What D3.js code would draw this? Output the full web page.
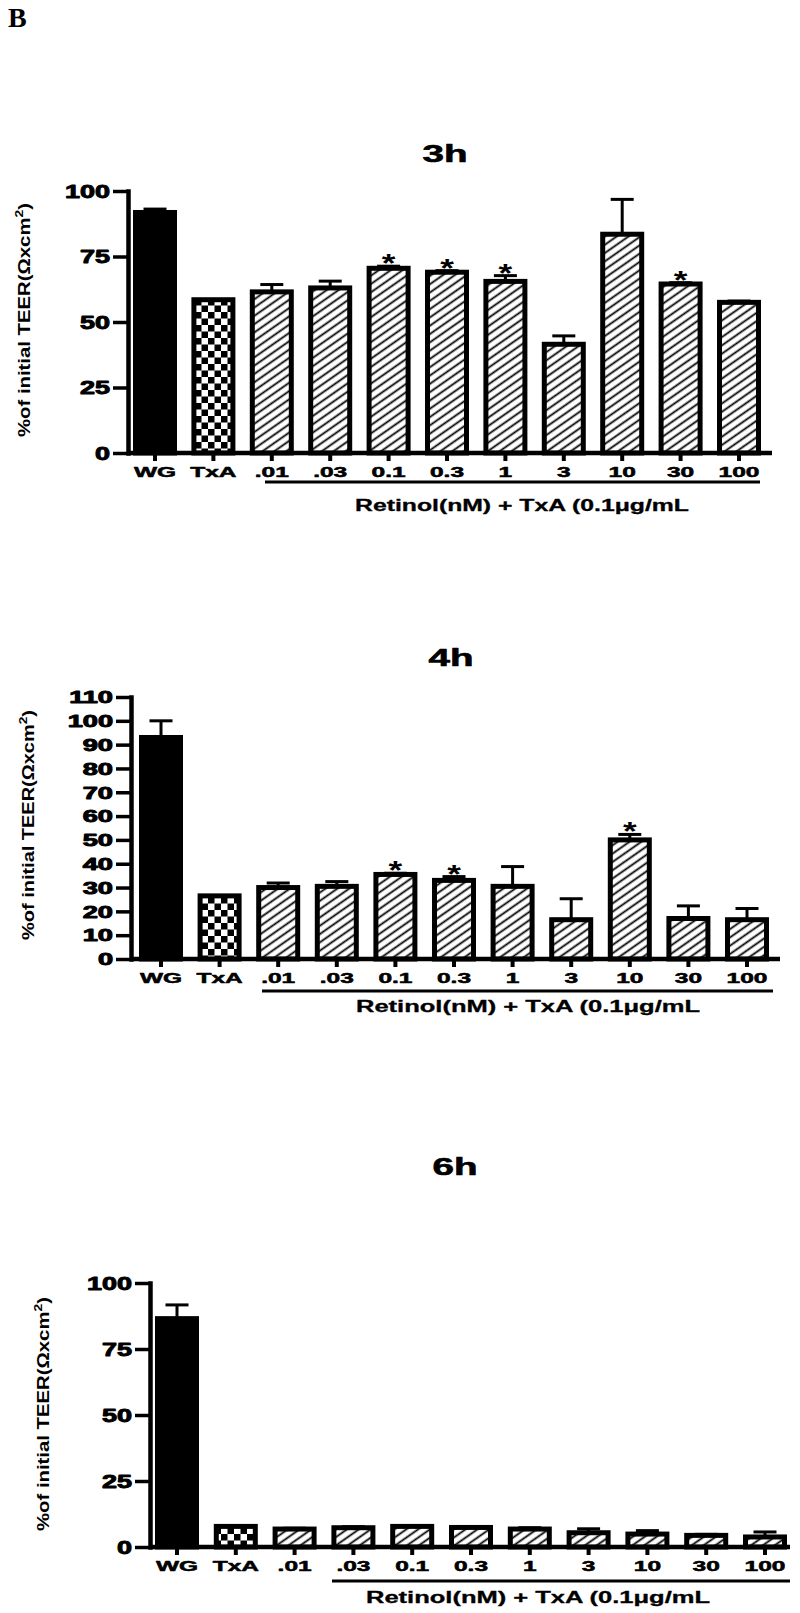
<!DOCTYPE html>
<html><head><meta charset="utf-8">
<script src="https://cdn.jsdelivr.net/npm/d3@7"></script>
<style>body{margin:0;background:#fff}</style>
</head><body>
<svg id="c" width="800" height="1613" xmlns="http://www.w3.org/2000/svg"></svg>
<script>
// ---------- DATA ----------
const categories = ["WG", "TxA", ".01", ".03", "0.1", "0.3", "1", "3", "10", "30", "100"];
const fillKinds = ["solid", "checker", "hatch", "hatch", "hatch", "hatch", "hatch", "hatch", "hatch", "hatch", "hatch"];

const values3h = [91.8, 58.5, 61.5, 63, 70.5, 69, 65.5, 41.5, 83.5, 64.5, 57.5];
const errors3h = [1.3, 0, 2.8, 2.6, 0.8, 0.6, 2.2, 3.2, 13.3, 0.5, 0.5];
const stars3h  = [0, 0, 0, 0, 1, 1, 1, 0, 0, 1, 0];
const yTicks3h = [0, 25, 50, 75, 100];

const values4h = [93, 26.5, 30, 30.5, 35.5, 33, 30.5, 16.5, 50, 17, 16.5];
const errors4h = [7, 0, 1.9, 2, 0.5, 1.6, 8.3, 8.8, 2.3, 5.3, 4.7];
const stars4h  = [0, 0, 0, 0, 1, 1, 0, 0, 1, 0, 0];
const yTicks4h = [0, 10, 20, 30, 40, 50, 60, 70, 80, 90, 100, 110];

const values6h = [86.5, 7.8, 6.8, 7.3, 7.8, 7.4, 6.8, 5.4, 4.9, 4.4, 3.8];
const errors6h = [5.2, 0, 0.3, 0.4, 0, 0, 0.5, 1.5, 1.3, 0.4, 1.9];
const stars6h  = [0, 0, 0, 0, 0, 0, 0, 0, 0, 0, 0];
const yTicks6h = [0, 25, 50, 75, 100];

const yLabelMain = "%of initial TEER(Ωxcm";
const groupLabel = "Retinol(nM) + TxA (0.1μg/mL";

// ---------- LAYOUT ----------
const FONT = "'Liberation Sans', Arial, Helvetica, sans-serif";
const layouts = [
  {title:"3h", ymax:100, ticks:yTicks3h, values:values3h, errors:errors3h, stars:stars3h,
   y0:453, yTop:191, axisX:128, firstCenter:155, step:58.4, axisEnd:772,
   tickFont:18, tickStretch:1.5, titleX:445, titleY:162,
   labY:477, ulY:482, ulX1:265, ulX2:760, retX:355, retY:511, retLen:334,
   ylabX:30, ylabY:320, ylabLen:234},
  {title:"4h", ymax:110, ticks:yTicks4h, values:values4h, errors:errors4h, stars:stars4h,
   y0:959, yTop:697, axisX:131, firstCenter:161, step:58.6, axisEnd:780,
   tickFont:16, tickStretch:1.7, titleX:451, titleY:666,
   labY:983, ulY:991, ulX1:262, ulX2:773, retX:356, retY:1012, retLen:344,
   ylabX:34, ylabY:825, ylabLen:230},
  {title:"6h", ymax:100, ticks:yTicks6h, values:values6h, errors:errors6h, stars:stars6h,
   y0:1547, yTop:1283, axisX:150, firstCenter:177, step:58.8, axisEnd:790,
   tickFont:18, tickStretch:1.5, titleX:455, titleY:1175,
   labY:1571, ulY:1581, ulX1:332, ulX2:790, retX:366, retY:1603, retLen:344,
   ylabX:49, ylabY:1414, ylabLen:234}
];

const svg = d3.select("#c");
const defs = svg.append("defs");

// hatch pattern
const hatch = defs.append("pattern").attr("id", "hatch")
  .attr("patternUnits", "userSpaceOnUse").attr("width", 8).attr("height", 6.8)
  .attr("patternTransform", "rotate(-35)");
hatch.append("rect").attr("width", 8).attr("height", 6.8).attr("fill", "#fff");
hatch.append("line").attr("x1", 0).attr("x2", 8).attr("y1", 3.4).attr("y2", 3.4)
  .attr("stroke", "#000").attr("stroke-width", 1.8);

// checker pattern
const chk = defs.append("pattern").attr("id", "checker")
  .attr("patternUnits", "userSpaceOnUse").attr("width", 13).attr("height", 13);
chk.append("rect").attr("width", 13).attr("height", 13).attr("fill", "#fff");
chk.append("rect").attr("width", 6.5).attr("height", 6.5).attr("fill", "#000");
chk.append("rect").attr("x", 6.5).attr("y", 6.5).attr("width", 6.5).attr("height", 6.5).attr("fill", "#000");

const fillFor = k => k === "solid" ? "#000" : (k === "checker" ? "url(#checker)" : "url(#hatch)");

// panel letter
svg.append("text").attr("x", 8).attr("y", 27)
  .attr("font-family", "'Liberation Serif', 'Times New Roman', serif")
  .attr("font-weight", "bold").attr("font-size", 28).text("B");

function heavy(sel, w) {
  sel.attr("stroke", "#000").attr("stroke-width", w).attr("stroke-linejoin", "round");
}

function drawChart(L) {
  const g = svg.append("g");
  const y = d3.scaleLinear().domain([0, L.ymax]).range([L.y0, L.yTop]);
  const barW = 39;
  const p = 1 - barW / L.step;
  const r0 = L.firstCenter - L.step / 2;
  const x = d3.scaleBand().domain(categories)
    .range([r0, r0 + L.step * categories.length])
    .paddingInner(p).paddingOuter(p / 2);

  // bars
  g.append("g").selectAll("rect").data(categories).join("rect")
    .attr("x", d => x(d))
    .attr("width", x.bandwidth())
    .attr("y", (d, i) => y(L.values[i]))
    .attr("height", (d, i) => L.y0 - y(L.values[i]))
    .attr("fill", (d, i) => fillFor(fillKinds[i]))
    .attr("stroke", "#000").attr("stroke-width", 5)
    .attr("stroke-linejoin", "miter");

  // error bars
  const eg = g.append("g").attr("stroke", "#000").attr("stroke-width", 3);
  categories.forEach((c, i) => {
    const cx = x(c) + x.bandwidth() / 2;
    const top = y(L.values[i] + L.errors[i]);
    if (L.errors[i] > 0) {
      eg.append("line").attr("x1", cx).attr("x2", cx)
        .attr("y1", y(L.values[i])).attr("y2", top);
      eg.append("line").attr("x1", cx - 11.5).attr("x2", cx + 11.5)
        .attr("y1", top).attr("y2", top);
    }
    if (L.stars[i]) {
      g.append("g").attr("transform", `translate(${cx},${top + 6}) scale(1.35,1)`)
        .append("text").attr("text-anchor", "middle")
        .attr("font-family", FONT).attr("font-weight", "bold").attr("font-size", 26)
        .text("*");
    }
  });

  // y axis
  const yAxis = d3.axisLeft(y).tickValues(L.ticks).tickSize(15).tickSizeOuter(0).tickPadding(3);
  const ya = g.append("g").attr("transform", `translate(${L.axisX},0)`).call(yAxis);
  ya.select(".domain").attr("stroke-width", 4.5).attr("stroke-linecap", "square");
  ya.selectAll(".tick line").attr("stroke-width", 3.5);
  ya.selectAll(".tick text")
    .attr("x", null).attr("dy", "0.36em")
    .attr("transform", `translate(-18,0) scale(${L.tickStretch},1)`)
    .attr("font-family", FONT).attr("font-weight", "bold").attr("font-size", L.tickFont)
    .attr("fill", "#000").call(heavy, 0.9);

  // x axis
  const xAxis = d3.axisBottom(x).tickSize(8).tickSizeOuter(0).tickPadding(0);
  const xa = g.append("g").attr("transform", `translate(0,${L.y0})`).call(xAxis);
  xa.select(".domain").remove();
  xa.selectAll(".tick line").attr("stroke-width", 4);
  xa.selectAll(".tick text")
    .attr("y", null).attr("dy", null)
    .attr("transform", `translate(0,${L.labY - L.y0}) scale(1.75,1)`)
    .attr("font-family", FONT).attr("font-weight", "bold").attr("font-size", 14)
    .attr("fill", "#000").call(heavy, 0.5);
  g.append("line").attr("x1", L.axisX).attr("x2", L.axisEnd)
    .attr("y1", L.y0).attr("y2", L.y0).attr("stroke", "#000").attr("stroke-width", 4.5);

  // underline + group label
  g.append("line").attr("x1", L.ulX1).attr("x2", L.ulX2)
    .attr("y1", L.ulY).attr("y2", L.ulY).attr("stroke", "#000").attr("stroke-width", 3);
  g.append("text").attr("x", L.retX).attr("y", L.retY)
    .attr("textLength", L.retLen).attr("lengthAdjust", "spacingAndGlyphs")
    .attr("font-family", FONT).attr("font-weight", "bold").attr("font-size", 16)
    .text(groupLabel).call(heavy, 0.3);

  // title
  g.append("text").attr("x", L.titleX).attr("y", L.titleY).attr("text-anchor", "middle")
    .attr("textLength", 45).attr("lengthAdjust", "spacingAndGlyphs")
    .attr("font-family", FONT).attr("font-weight", "bold").attr("font-size", 24)
    .text(L.title).call(heavy, 0.6);

  // y label
  const yl = g.append("text")
    .attr("transform", `translate(${L.ylabX},${L.ylabY}) rotate(-90)`)
    .attr("text-anchor", "middle")
    .attr("textLength", L.ylabLen).attr("lengthAdjust", "spacingAndGlyphs")
    .attr("font-family", FONT).attr("font-weight", "bold").attr("font-size", 16);
  yl.append("tspan").text(yLabelMain);
  yl.append("tspan").attr("dy", -7).attr("font-size", 11).text("2");
  yl.append("tspan").attr("dy", 7).text(")");
}

layouts.forEach(drawChart);
</script>
</body></html>
